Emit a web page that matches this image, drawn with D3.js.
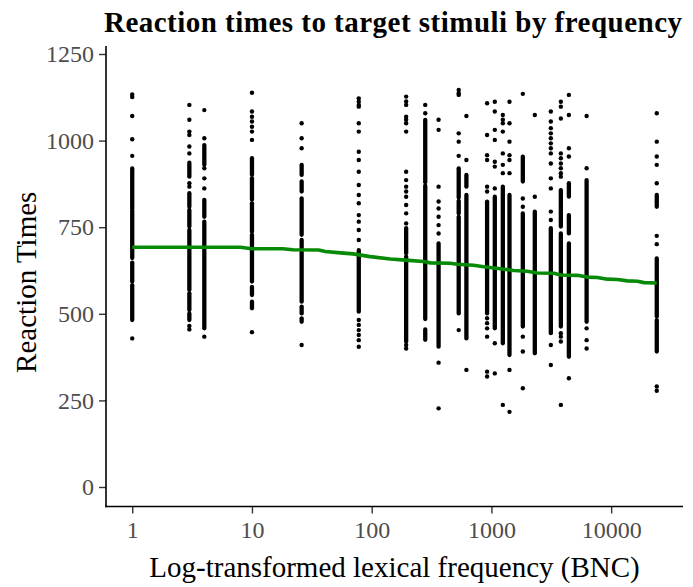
<!DOCTYPE html>
<html>
<head>
<meta charset="utf-8">
<script src="https://cdn.jsdelivr.net/npm/d3@7"></script>
<style>
  html, body { margin: 0; padding: 0; background: #fff; }
  svg { display: block; }
  text { font-family: "Liberation Serif", "Times New Roman", serif; }
</style>
</head>
<body>
<svg id="chart" width="693" height="587"></svg>
<script>
// ---- data ----
const freqs = [1, 3, 4, 10, 26, 78, 194, 280, 362, 533, 618, 920, 1067, 1245, 1415, 1829, 2303, 3134, 3800, 4434, 6237, 24040];

// isolated reaction-time points per frequency column
const dotRT = [
  [1133, 1126, 1071, 1004, 956, 429],
  [1103, 1060, 1026, 1016, 983, 963, 877, 867, 465, 455],
  [1088, 1007, 920, 891, 862, 434],
  [1138, 1084, 1069, 1055, 1040, 1026, 1002, 447],
  [1050, 1007, 978, 410],
  [1122, 1112, 1103, 1098, 1050, 1026, 968, 944, 910, 872, 843, 819, 785, 766, 742, 713, 482, 468, 453, 439, 424, 405],
  [1127, 1113, 1103, 1069, 1060, 1050, 1026, 910, 886, 867, 853, 838, 814, 790, 761, 410, 400],
  [1103, 1079],
  [1060, 1031, 867, 824, 804, 780, 756, 732, 359, 227],
  [1146, 1137, 1132, 1021, 997, 956, 453],
  [1071, 944, 338],
  [1108, 1016, 958, 944, 867, 853, 487, 473, 458, 434, 333, 319],
  [1112, 1084, 1031, 1002, 939, 925, 862, 415, 328],
  [1074, 1060, 1050, 1026, 963, 930, 906, 237],
  [1112, 1050, 997, 958, 944, 906, 338, 217],
  [1135, 833, 809, 434, 391, 285],
  [1074, 838],
  [1084, 1055, 1036, 1021, 1007, 992, 978, 963, 934, 891, 862, 795, 771, 410, 352],
  [1112, 1098, 1064, 963, 949, 934, 920, 906, 896, 444, 434, 420, 237],
  [1132, 1074, 978, 954, 314],
  [1071, 920, 458, 424, 400],
  [1079, 997, 954, 930, 877, 725, 701, 290, 278]
];

// dense runs of overlapping points per column: [low, high]
const runRT = [
  [[803, 920], [661, 798], [593, 648], [482, 583]],
  [[896, 936], [809, 848], [752, 800], [569, 742], [511, 559], [482, 501]],
  [[930, 987], [780, 829], [458, 766]],
  [[901, 949], [829, 891], [737, 819], [593, 728], [554, 578], [516, 535]],
  [[901, 930], [853, 882], [728, 833], [535, 713], [501, 521], [477, 487]],
  [[506, 684]],
  [[675, 747], [420, 665]],
  [[880, 1060], [485, 870], [425, 455]],
  [[405, 703]],
  [[836, 920], [790, 826], [501, 780]],
  [[867, 901], [429, 843]],
  [[501, 824]],
  [[458, 838]],
  [[415, 867]],
  [[381, 843]],
  [[882, 954], [463, 790]],
  [[386, 795]],
  [[444, 747]],
  [[752, 857], [463, 732]],
  [[838, 877], [732, 785], [376, 703]],
  [[477, 886]],
  [[809, 843], [492, 660], [391, 482]]
];

// smoothed trend (green line)
const smoothFreq = [1, 8, 10, 18, 22, 36, 41, 55, 70, 97, 143, 191, 271, 309, 454, 516, 711, 862, 1188, 1537, 1989, 2410, 3321, 3777, 5210, 6324, 7670, 9300, 11270, 13670, 16570, 18830, 24040];
const smoothRT = [692, 692, 688, 688, 685, 684, 680, 676, 673, 665, 658, 655, 651, 647, 646, 643, 640, 636, 630, 625, 623, 618, 617, 612, 611, 606, 605, 600, 599, 595, 594, 590, 589];

const xTicks = [1, 10, 100, 1000, 10000];
const xTickLabels = ["1", "10", "100", "1000", "10000"];
const yTicks = [0, 250, 500, 750, 1000, 1250];
const yTickLabels = ["0", "250", "500", "750", "1000", "1250"];

const titleText = "Reaction times to target stimuli by frequency";
const xTitle = "Log-transformed lexical frequency (BNC)";
const yTitle = "Reaction Times";

// ---- layout ----
const panel = { left: 106, right: 683, top: 46, bottom: 506.5 };
const svg = d3.select("#chart");
svg.append("rect").attr("width", 693).attr("height", 587).attr("fill", "#fff");

const lmin = 0, lmax = Math.log10(d3.max(freqs));
const pad = (lmax - lmin) * 0.05;
const x = d3.scaleLog()
  .domain([Math.pow(10, lmin - pad), Math.pow(10, lmax + pad)])
  .range([panel.left, panel.right]);
const y = d3.scaleLinear().domain([0, 1250]).range([487, 54]);

// points
const g = svg.append("g");
freqs.forEach((f, i) => {
  runRT[i].forEach(r => {
    g.append("line")
      .attr("x1", x(f)).attr("x2", x(f))
      .attr("y1", y(r[0])).attr("y2", y(r[1]))
      .attr("stroke", "#000").attr("stroke-width", 4.3)
      .attr("stroke-linecap", "round");
  });
  dotRT[i].forEach(v => {
    g.append("circle")
      .attr("cx", x(f)).attr("cy", y(v)).attr("r", 2.2)
      .attr("fill", "#000");
  });
});

// smooth line
const smooth = smoothFreq.map((f, i) => [f, smoothRT[i]]);
svg.append("path")
  .datum(smooth)
  .attr("fill", "none")
  .attr("stroke", "#078a07")
  .attr("stroke-width", 3.6)
  .attr("stroke-linejoin", "round")
  .attr("d", d3.line().x(d => x(d[0])).y(d => y(d[1])));

// axes
const xAxis = d3.axisBottom(x).tickValues(xTicks).tickFormat((d, i) => xTickLabels[i]).tickSize(7).tickPadding(7).tickSizeOuter(0);
const xg = svg.append("g").attr("transform", `translate(0,${panel.bottom})`).call(xAxis);
xg.select(".domain").remove();
xg.append("line").attr("x1", panel.left - 0.75).attr("x2", panel.right).attr("y1", 0).attr("y2", 0)
  .attr("stroke", "#000").attr("stroke-width", 1.6);
xg.selectAll(".tick line").attr("stroke", "#333").attr("stroke-width", 1.4);
xg.selectAll(".tick text").attr("fill", "#4d4d4d").attr("font-size", 24)
  .attr("font-family", "Liberation Serif, serif");

const yAxis = d3.axisLeft(y).tickValues(yTicks).tickFormat((d, i) => yTickLabels[i]).tickSize(7).tickPadding(5).tickSizeOuter(0);
const yg = svg.append("g").attr("transform", `translate(${panel.left},0)`).call(yAxis);
yg.select(".domain").remove();
yg.append("line").attr("x1", 0).attr("x2", 0).attr("y1", panel.top).attr("y2", panel.bottom + 0.75)
  .attr("stroke", "#000").attr("stroke-width", 1.6);
yg.selectAll(".tick line").attr("stroke", "#333").attr("stroke-width", 1.4);
yg.selectAll(".tick text").attr("fill", "#4d4d4d").attr("font-size", 24)
  .attr("font-family", "Liberation Serif, serif");

// titles
svg.append("text")
  .attr("x", 104).attr("y", 32)
  .attr("text-anchor", "start")
  .attr("font-size", 29).attr("font-weight", "bold")
  .attr("textLength", 578).attr("lengthAdjust", "spacing")
  .attr("fill", "#000")
  .text(titleText);

svg.append("text")
  .attr("x", (panel.left + panel.right) / 2).attr("y", 577)
  .attr("text-anchor", "middle")
  .attr("font-size", 29)
  .attr("fill", "#000")
  .text(xTitle);

svg.append("text")
  .attr("transform", `translate(36,${(panel.top + panel.bottom) / 2 + 6}) rotate(-90)`)
  .attr("text-anchor", "middle")
  .attr("font-size", 29)
  .attr("fill", "#000")
  .text(yTitle);
</script>
</body>
</html>
